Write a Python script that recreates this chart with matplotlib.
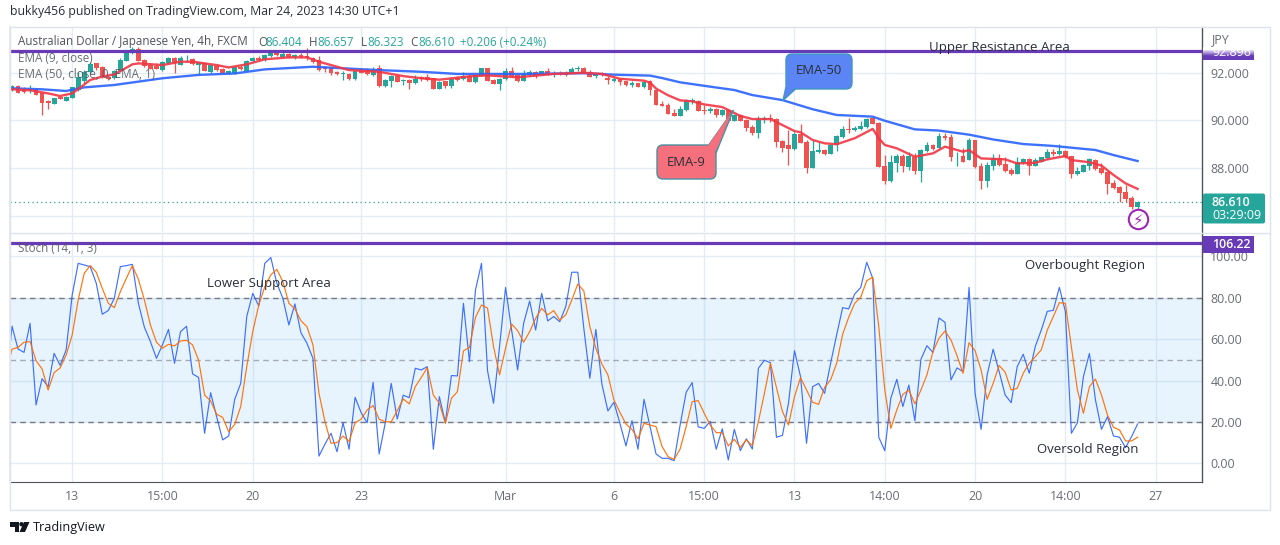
import numpy as np
import matplotlib
matplotlib.use("Agg")
import matplotlib.pyplot as plt
from matplotlib.patches import FancyBboxPatch, Polygon, Rectangle, Circle

plt.rcParams['font.family'] = ['Open Sans', 'DejaVu Sans']

# === data ===
opens = [91.27,91.44,91.33,91.21,91.30,91.13,90.80,90.70,90.96,90.83,
    90.95,91.28,91.63,92.02,92.38,92.21,91.83,91.77,92.05,92.49,
    92.81,92.98,92.52,92.33,92.26,92.10,92.40,92.60,92.33,92.55,
    92.56,92.33,92.38,92.03,92.28,92.15,91.96,91.96,92.24,92.08,
    92.48,92.60,92.52,92.69,92.80,92.63,92.77,92.63,92.73,92.70,
    92.59,92.52,92.21,92.17,92.03,91.95,91.94,91.71,92.10,92.10,
    91.90,92.19,91.44,91.65,91.87,91.63,91.69,91.56,91.80,91.83,
    91.77,91.33,91.63,91.44,91.77,91.72,91.85,91.60,91.85,92.19,
    91.70,91.52,91.73,92.05,91.88,91.66,91.88,92.02,91.91,92.05,
    91.94,91.98,91.99,92.02,92.13,92.19,92.02,91.85,91.99,91.77,
    91.66,91.72,91.63,91.49,91.56,91.38,91.63,91.27,90.70,90.66,
    90.31,90.19,90.42,90.76,90.81,90.42,90.41,90.48,90.22,90.42,
    89.98,90.22,90.03,89.73,89.48,90.01,90.09,90.06,89.15,88.98,
    88.81,89.45,89.12,88.02,88.70,88.77,88.60,88.98,89.31,89.65,
    89.60,89.63,89.72,90.09,89.90,88.10,87.48,88.23,88.52,88.08,
    88.49,87.90,88.73,88.98,88.84,89.35,89.31,88.51,88.52,88.37,
    89.19,88.10,87.49,88.10,88.45,88.20,87.95,87.77,88.24,88.40,
    88.12,88.29,88.42,88.69,88.60,88.73,88.52,87.77,87.87,88.12,
    88.35,88.02,87.87,87.40,87.24,87.02,86.76,86.404]
highs = [91.48,91.48,91.38,91.46,91.35,91.16,90.84,90.95,90.99,91.02,
    91.41,92.03,92.10,92.45,92.41,92.27,91.88,92.10,92.59,92.91,
    93.08,93.05,92.55,92.38,92.38,92.46,92.66,92.63,92.69,92.71,
    92.60,92.42,92.41,92.34,92.31,92.17,92.10,92.24,92.31,92.52,
    92.63,92.69,92.76,92.83,92.91,92.91,92.83,92.77,92.80,93.01,
    92.63,92.69,92.27,92.24,92.08,92.08,91.96,92.10,92.13,92.17,
    92.24,92.30,91.72,91.91,91.91,91.73,91.74,91.88,91.85,91.94,
    91.77,91.63,91.66,91.74,91.85,92.02,91.95,91.94,92.19,92.19,
    91.73,91.77,92.19,92.22,91.91,92.09,92.10,92.05,92.08,92.19,
    92.08,92.05,92.08,92.22,92.26,92.23,92.09,91.99,92.02,91.85,
    91.81,91.74,91.66,91.63,91.58,91.66,91.69,91.27,90.81,90.72,
    90.47,90.60,90.88,90.94,90.84,90.63,90.56,90.52,90.47,90.47,
    90.26,90.25,90.06,89.81,90.20,90.17,90.26,90.09,89.17,89.60,
    89.51,89.85,89.17,89.19,89.09,88.81,89.01,89.40,89.78,90.12,
    89.78,89.98,90.09,90.15,89.92,88.56,88.56,88.59,88.59,88.70,
    88.63,88.81,89.09,89.03,89.47,89.48,89.42,88.70,88.84,89.26,
    89.19,88.24,88.26,88.60,88.59,88.47,88.04,88.47,88.45,88.42,
    88.42,88.48,88.81,88.81,89.01,88.77,88.52,88.08,88.17,88.42,
    88.38,88.21,87.90,87.52,87.28,87.31,86.87,86.657]
lows = [91.21,91.13,91.13,91.13,91.05,90.24,90.48,90.69,90.88,90.81,
    90.94,91.24,91.58,91.94,92.10,91.76,91.69,91.74,92.02,92.46,
    92.78,92.46,92.21,92.13,92.13,92.08,92.37,91.98,92.30,92.44,
    92.30,91.94,92.05,91.96,92.08,91.96,91.94,91.94,92.10,92.05,
    92.45,92.49,92.49,92.66,92.69,92.60,92.60,92.58,92.60,92.52,
    92.41,92.08,92.03,91.88,91.88,91.69,91.69,91.69,91.96,91.90,
    91.87,91.41,91.41,91.41,91.59,91.49,91.33,91.53,91.66,91.66,
    91.31,91.31,91.35,91.35,91.63,91.69,91.59,91.58,91.85,91.66,
    91.52,91.29,91.70,91.83,91.60,91.63,91.85,91.77,91.88,91.88,
    91.83,91.88,91.85,91.98,92.08,91.99,91.80,91.77,91.85,91.52,
    91.60,91.49,91.44,91.41,91.38,91.35,91.05,90.66,90.59,90.27,
    90.17,90.17,90.38,90.70,90.41,90.28,90.33,90.15,90.17,89.94,
    89.97,89.97,89.58,89.40,89.29,89.88,89.95,88.91,88.70,88.15,
    88.78,89.05,87.83,88.01,88.63,88.56,88.59,88.73,89.29,89.47,
    89.56,89.60,89.67,89.84,88.06,87.37,87.45,87.87,87.87,87.94,
    87.77,87.42,88.67,88.76,88.81,89.17,88.33,88.12,88.26,88.34,
    88.04,87.15,87.23,87.94,88.12,87.87,87.73,87.76,88.20,87.73,
    88.09,88.26,88.40,88.53,88.56,88.42,87.62,87.73,87.84,87.94,
    87.95,87.78,86.95,87.15,86.62,86.62,86.31,86.323]
closes = [91.44,91.16,91.19,91.33,91.08,90.74,90.74,90.92,90.91,90.99,
    91.38,91.80,92.02,92.37,92.19,91.80,91.74,92.05,92.53,92.84,
    92.98,92.49,92.26,92.16,92.16,92.44,92.60,92.40,92.60,92.58,
    92.34,92.42,92.08,92.31,92.10,91.99,92.05,92.21,92.13,92.49,
    92.60,92.52,92.73,92.80,92.73,92.77,92.66,92.73,92.63,92.59,
    92.45,92.10,92.13,91.96,91.92,91.98,91.71,92.08,91.99,91.92,
    92.10,91.44,91.69,91.87,91.60,91.69,91.56,91.73,91.72,91.69,
    91.31,91.62,91.44,91.73,91.69,91.85,91.60,91.91,92.19,91.66,
    91.52,91.74,92.05,91.87,91.66,91.94,92.02,91.87,92.05,91.91,
    91.98,91.94,91.91,92.16,92.19,92.02,91.83,91.94,91.88,91.67,
    91.74,91.60,91.49,91.56,91.40,91.60,91.26,90.66,90.62,90.28,
    90.19,90.48,90.83,90.84,90.41,90.40,90.48,90.22,90.44,89.97,
    90.22,89.98,89.69,89.48,90.06,90.09,90.05,89.12,88.84,88.81,
    89.44,89.08,88.02,88.73,88.77,88.60,88.98,89.35,89.65,89.60,
    89.70,89.77,90.06,89.85,88.06,87.48,88.27,88.52,88.10,88.51,
    87.90,88.78,88.98,88.81,89.35,89.28,88.49,88.53,88.29,89.20,
    88.06,87.49,88.15,88.45,88.15,87.90,87.77,88.29,88.40,88.10,
    88.35,88.48,88.70,88.60,88.73,88.47,87.77,87.91,88.15,88.38,
    87.98,87.81,87.34,87.17,86.98,86.73,86.38,86.610]

ema9_bar = [-1,0,3,6,8,10,11,13,15,17,20,21,25,28,30,34,36,39,42,46,49,51,54,56,61,65,68,
    71,76,79,84,90,95,98,101,105,106,107,109,111,113,115,118,121,123,126,128,130,131,
    133,135,137,140,143,144,145,147,150,153,155,157,158,159,160,161,165,167,170,172,
    175,176,179,181,183,185,187]
ema9_val = [91.30,91.30,91.26,91.13,91.02,91.13,91.31,91.69,91.83,91.92,92.34,92.38,92.31,
    92.45,92.45,92.31,92.21,92.34,92.55,92.63,92.63,92.45,92.24,92.10,92.03,91.85,91.76,
    91.70,91.84,91.88,91.80,91.94,91.99,91.94,91.74,91.66,91.58,91.33,91.05,90.84,90.80,
    90.67,90.56,90.19,90.06,90.06,89.81,89.56,89.51,89.19,89.05,89.01,89.26,89.65,89.26,
    88.98,88.84,88.49,88.63,88.91,88.77,88.70,88.77,88.59,88.42,88.38,88.21,88.24,88.38,
    88.52,88.35,88.26,88.12,87.73,87.38,87.15]

ema50_bar = [-1,0,5,9,12,17,25,31,37,42,50,57,61,68,74,85,95,100,106,108,111,116,120,123,128,
    133,137,143,145,150,154,159,163,168,173,180,183,187]
ema50_val = [91.34,91.34,91.30,91.23,91.38,91.48,91.76,91.90,91.96,92.13,92.24,92.15,92.10,
    92.03,91.94,91.94,91.97,91.91,91.87,91.77,91.59,91.41,91.27,91.06,90.85,
    90.47,90.23,90.16,89.99,89.63,89.58,89.41,89.21,89.02,88.94,88.77,88.56,88.31]

# first value of each stoch list sits one bar left of the pane edge
stoch_k = [35.8,66.3,55.2,53.6,67.6,28.2,40.9,37.0,53.1,47.3,54.8,
    81.3,96.6,95.8,95.0,87.0,72.0,73.8,79.7,95.0,95.5,
    96.1,77.3,65.7,58.8,50.7,57.2,64.7,48.3,63.6,66.2,
    43.2,41.5,14.5,34.1,22.5,11.3,13.2,30.9,38.6,70.9,
    82.1,76.0,96.6,99.4,87.0,79.7,66.8,77.0,63.1,58.0,
    50.7,3.5,9.3,14.5,5.6,19.6,6.8,31.9,24.5,19.6,
    39.1,4.5,19.3,38.6,21.4,32.9,31.7,45.9,45.1,46.7,
    6.8,32.2,19.6,42.4,42.2,77.3,49.1,83.7,96.6,44.8,
    29.0,56.4,85.0,64.4,45.1,67.6,78.4,64.4,82.1,68.8,
    70.9,68.4,75.7,92.3,92.3,65.2,41.1,64.7,38.3,25.3,
    29.5,19.3,8.4,20.6,6.8,30.9,17.7,4.5,2.4,2.4,
    1.3,18.5,34.3,39.0,17.6,16.9,20.3,6.8,16.7,1.6,
    16.4,6.1,11.8,6.9,45.9,49.8,48.6,12.6,13.5,29.0,
    54.4,41.9,9.7,37.0,38.6,33.8,48.3,62.0,75.2,74.6,
    81.8,84.9,97.1,89.4,12.6,6.1,31.4,40.6,27.4,37.8,
    20.6,50.2,56.8,53.6,70.2,68.1,40.3,46.1,44.3,85.0,
    33.8,16.4,42.7,55.1,44.3,33.0,29.3,46.7,52.7,43.5,
    56.4,64.4,73.4,73.9,85.0,73.3,14.5,19.6,41.9,53.1,
    30.6,16.4,22.5,13.2,12.6,7.6,12.9,19.0]
stoch_d = [42.8,55.1,56.0,58.5,58.8,49.6,45.6,35.4,43.8,46.1,52.3,
    62.0,78.9,91.8,95.5,92.3,84.5,77.3,75.2,82.9,89.4,
    95.5,88.9,78.9,66.8,58.5,55.6,57.5,56.7,59.1,59.4,
    57.2,49.9,33.0,30.1,23.7,22.2,15.3,18.8,27.4,46.7,
    63.6,76.5,85.3,91.0,93.7,87.8,77.3,74.6,68.9,66.0,
    57.2,33.8,20.1,9.7,10.0,13.2,10.5,19.6,21.3,25.8,
    27.9,21.3,20.1,20.0,25.4,31.1,28.7,37.0,41.5,46.2,
    33.0,29.0,19.3,31.4,34.6,54.3,56.0,70.5,76.5,75.0,
    56.4,42.7,55.6,67.3,64.1,58.5,63.6,70.0,74.9,71.7,
    73.8,69.2,71.7,78.9,86.6,83.3,66.0,55.6,48.0,42.7,
    30.6,24.6,19.0,16.4,11.8,19.3,18.5,17.7,8.1,3.2,
    1.9,6.9,17.7,29.8,30.3,24.2,18.5,14.8,14.8,8.4,
    11.6,7.7,11.3,8.5,20.1,33.8,48.3,36.7,25.0,18.5,
    32.2,41.4,35.4,29.5,28.5,36.7,40.3,48.3,62.3,70.5,
    77.3,80.2,88.2,89.9,66.0,35.4,16.9,25.8,33.3,35.4,
    28.7,35.4,42.7,53.9,60.4,63.9,59.6,52.0,43.5,58.3,
    54.4,45.1,30.9,38.6,47.3,44.0,35.4,36.2,43.5,48.3,
    51.5,54.8,64.4,70.9,77.6,77.3,56.4,35.4,24.2,37.0,
    40.7,33.0,23.3,17.4,16.1,10.8,10.8,12.6]

xtick_bars = [10, 25, 40, 58, 82, 100, 115, 130, 145, 160, 175, 190]
xtick_labels = ['13', '15:00', '20', '23', 'Mar', '6', '15:00', '13', '14:00', '20', '14:00', '27']
price_ticks = [88, 90, 92]
price_grid = [86, 88, 90, 92]
stoch_ticks = [0, 20, 40, 60, 80, 100]
resistance_level = 92.896
support_level = 106.22
last_close = 86.610

UP = '#26A69A'
DOWN = '#EF5350'
PURPLE = '#673AB7'
GRID = '#E4EDF3'
AXIS = '#50535E'
LABEL = '#6A6D78'
DARK = '#2A2E39'
W, H = 1280, 545


def pane(left, top, right, bottom):
    return fig.add_axes([left / W, 1 - bottom / H, (right - left) / W, (bottom - top) / H])


fig = plt.figure(figsize=(W / 100, H / 100), dpi=100, facecolor='white')

# === price pane ===
ax1 = pane(10, 27, 1202, 232.5)
ax1.set_xlim(-0.33, 197.7)
ax1.set_ylim(85.333, 93.896)
bars = np.arange(len(opens))
o, h, l, c = map(np.array, (opens, highs, lows, closes))
colors = [UP if cc >= oo else DOWN for oo, cc in zip(o, c)]
ax1.vlines(bars, l, h, colors=colors, lw=0.9, zorder=3)
ax1.bar(bars, np.abs(c - o), bottom=np.minimum(o, c), width=0.8, color=colors, zorder=3)
ax1.plot(ema50_bar, ema50_val, color='#2962FF', lw=1.7, alpha=0.9, zorder=4, solid_joinstyle='round')
ax1.plot(ema9_bar, ema9_val, color='#F23645', lw=1.7, alpha=0.9, zorder=5, solid_joinstyle='round')
ax1.axhline(last_close, color=UP, lw=0.9, ls=(0, (1, 2.5)), zorder=2)
ax1.axhline(resistance_level, color=PURPLE, lw=2.3, zorder=6)
ax1.set_yticks(price_ticks, [f'{v:.3f}' for v in price_ticks])
ax1.set_yticks(price_grid, minor=True)
ax1.set_xticks(xtick_bars)
ax1.tick_params(axis='x', length=0, labelbottom=False)
ax1.tick_params(axis='y', which='both', length=0, right=False, left=False)
ax1.yaxis.tick_right()
ax1.tick_params(axis='y', labelsize=8.9, labelcolor=LABEL, pad=6)
ax1.grid(True, which='both', color=GRID, lw=1.0, zorder=0)
ax1.set_axisbelow(True)

# === stochastic pane ===
ax2 = pane(10, 232.5, 1202, 482)
ax2.set_xlim(-0.33, 197.7)
ax2.set_ylim(-9.03, 111.5)
ax2.axhspan(20, 80, color='#2196F3', alpha=0.1, lw=0, zorder=1)
ax2.axhline(80, color='#787B86', lw=1.0, ls=(0, (4, 3)), zorder=2)
ax2.axhline(50, color='#787B86', lw=1.0, ls=(0, (4, 3)), alpha=0.6, zorder=2)
ax2.axhline(20, color='#787B86', lw=1.0, ls=(0, (4, 3)), zorder=2)
stoch_x = np.arange(-1, len(stoch_k) - 1)
ax2.plot(stoch_x, stoch_k, color='#2962FF', lw=0.85, alpha=0.9, zorder=4)
ax2.plot(stoch_x, stoch_d, color='#FF6D00', lw=0.85, alpha=0.95, zorder=5)
ax2.axhline(support_level, color=PURPLE, lw=2.3, zorder=6)
ax2.set_yticks(stoch_ticks, [f'{v:.2f}' for v in stoch_ticks])
ax2.yaxis.tick_right()
ax2.set_xticks(xtick_bars, xtick_labels)
ax2.tick_params(axis='y', length=0, labelsize=8.9, labelcolor=LABEL, pad=6)
ax2.tick_params(axis='x', length=0, labelsize=8.9, labelcolor=LABEL, pad=6)
ax2.grid(True, color=GRID, lw=1.0, zorder=0)
ax2.set_axisbelow(True)

for ax in (ax1, ax2):
    ax.spines['top'].set_visible(False)
    ax.spines['bottom'].set_visible(False)
    ax.spines['left'].set_color(GRID)
    ax.spines['left'].set_linewidth(1.4)
    ax.spines['right'].set_color(AXIS)
    ax.spines['right'].set_linewidth(1.0)
ax2.spines['bottom'].set_visible(True)
ax2.spines['bottom'].set_color(AXIS)

# === overlay in figure pixels, for labels and callouts ===
ov = fig.add_axes([0, 0, 1, 1], zorder=10)
ov.set_xlim(0, W)
ov.set_ylim(H, 0)
ov.axis('off')

# outer frame
ov.plot([10, 1270, 1270, 10, 10], [27, 27, 510, 510, 27], color='#E0E3EB', lw=1.0)
ov.plot([10, 1270], [232.5, 232.5], color='#E0E3EB', lw=1.0)


def label(x, y, s, size=8.4, color=LABEL, **kw):
    kw.setdefault('ha', 'left')
    kw.setdefault('va', 'center')
    return ov.text(x, y, s, fontsize=size, color=color, **kw)


label(10, 11, 'bukky456 published on TradingView.com, Mar 24, 2023 14:30 UTC+1', size=8.8, color=DARK)

label(18, 42, 'Australian Dollar / Japanese Yen, 4h, FXCM', color=AXIS)
for x, s in [(258, 'O'), (309, 'H'), (361, 'L'), (410, 'C')]:
    label(x, 42, s, color=AXIS)
for x, s in [(265, '86.404'), (317, '86.657'), (367, '86.323'), (418, '86.610'), (460, '+0.206 (+0.24%)')]:
    label(x, 42, s, color=UP)
label(18, 59, 'EMA (9, close)', color=AXIS, alpha=0.85)
label(18, 75, 'EMA (50, close, 0, EMA, 1)', color=AXIS, alpha=0.85)
label(18, 248, 'Stoch (14, 1, 3)', color=AXIS, alpha=0.85, zorder=1)
label(1211, 40, 'JPY', size=8.9, color=LABEL)

label(929, 47, 'Upper Resistance Area', size=9.5, color=DARK)
label(207, 283.5, 'Lower Support Area', size=9.5, color=DARK)
label(1025, 266, 'Overbought Region', size=9.5, color=DARK)
label(1037, 449.5, 'Oversold Region', size=9.5, color=DARK)

# purple price tag, faded at its top edge
ov.add_patch(Rectangle((1203, 50), 51, 10, color=PURPLE, lw=0))
label(1212, 52, '92.896', size=8.9, color='white', zorder=3)
for k in range(3):
    ov.add_patch(Rectangle((1203, 47 + k), 51, 1.1, color='white', lw=0, zorder=4))
for k in range(6):
    ov.add_patch(Rectangle((1203, 50 + k), 51, 1.1, color='white', alpha=0.8 - k * 0.15, lw=0, zorder=4))

ov.add_patch(Rectangle((1203, 236), 51, 16.5, color=PURPLE, lw=0, zorder=2))
label(1212, 244.5, f'{support_level:.2f}', size=8.9, color='white', fontweight='semibold', zorder=3)

ov.add_patch(FancyBboxPatch((1203, 193.5), 62, 30, boxstyle='round,pad=0,rounding_size=2', color=UP, lw=0))
label(1212, 202, f'{last_close:.3f}', size=8.9, color='white', fontweight='semibold')
label(1212, 215.5, '03:29:09', size=8.9, color='white')

# flash icon under the last bar
ov.add_patch(Circle((1138.5, 219.5), 9.7, fc='white', ec='#9C27B0', lw=1.5))
ov.text(1138.5, 219.8, '\u26a1', fontsize=11, color='#9C27B0', ha='center', va='center',
        family=['DejaVu Sans'])

# callouts
ov.add_patch(Polygon([(787, 82), (783, 100.5), (796, 88.5)], fc='#5B84F4', ec='#3F98C2', lw=1.0, zorder=5))
ov.add_patch(FancyBboxPatch((786, 54), 66, 35, boxstyle='round,pad=0,rounding_size=6',
                            fc='#5B84F4', ec='#3F98C2', lw=1.0, zorder=5))
ov.add_patch(Polygon([(787.5, 80), (784.5, 97), (795, 87.5)], fc='#5B84F4', ec='none', zorder=6))
label(819, 70.5, 'EMA-50', size=9.4, color=DARK, ha='center', zorder=7)

ov.add_patch(Polygon([(708, 146), (733.5, 110), (716, 153)], fc='#F56F7C', ec='#4A90A4', lw=1.0, zorder=5))
ov.add_patch(FancyBboxPatch((657, 145), 59, 34, boxstyle='round,pad=0,rounding_size=6',
                            fc='#F56F7C', ec='#4A90A4', lw=1.0, zorder=5))
ov.add_patch(Polygon([(707, 147), (731, 113), (715, 152)], fc='#F56F7C', ec='none', zorder=6))
label(686, 162.5, 'EMA-9', size=9.4, color=DARK, ha='center', zorder=7)

# TradingView mark in the footer
ov.add_patch(Polygon([(10, 522), (19, 522), (19, 532), (14.5, 532), (14.5, 526.5), (10, 526.5)], fc='#131722', ec='none'))
ov.add_patch(Circle((21.5, 524.2), 2.2, fc='#131722', ec='none'))
ov.add_patch(Polygon([(24, 522), (29.5, 522), (25, 532), (19.5, 532)], fc='#131722', ec='none'))
label(33, 527, 'TradingView', size=9.1, color='#131722', fontweight='medium')

fig.savefig('out.png', dpi=100, facecolor='white')
